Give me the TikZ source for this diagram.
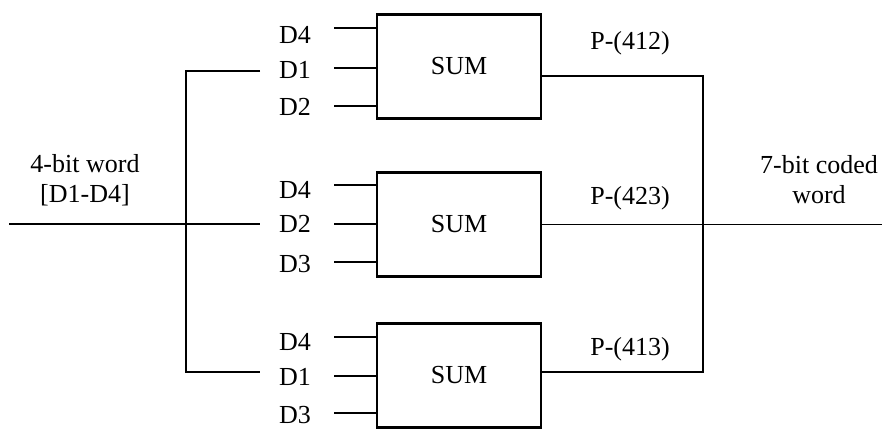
\documentclass[tikz,border=0pt]{standalone}
\usepackage{fontspec}
\setmainfont{Liberation Serif}
\usetikzlibrary{positioning, calc}

\begin{document}
\begin{tikzpicture}[
    x=0.5pt, y=-0.5pt,
    every node/.style={font=\fontsize{13}{15}\selectfont},
    sumbox/.style={draw, line width=1.4pt, minimum width=82pt, minimum height=52pt, inner sep=0pt},
    lbl/.style={inner sep=0pt},
    bus/.style={line width=1.4pt},
    wire/.style={line width=0.6pt}
]
    \useasboundingbox (0,0) rectangle (882,428);

    % Parity blocks
    \node[sumbox] (sum1) at (459,66.5) {SUM};
    \node[sumbox] (sum2) at (459,224.5) {SUM};
    \node[sumbox] (sum3) at (459,375.5) {SUM};

    % Data bit labels
    \node[lbl] (l14) at (295,35) {D4};
    \node[lbl] (l11) at (295,70) {D1};
    \node[lbl] (l12) at (295,107) {D2};
    \node[lbl] (l24) at (295,190) {D4};
    \node[lbl] (l22) at (295,224) {D2};
    \node[lbl] (l23) at (295,264) {D3};
    \node[lbl] (l34) at (295,342) {D4};
    \node[lbl] (l31) at (295,377) {D1};
    \node[lbl] (l33) at (295,415) {D3};

    % Input stubs
    \coordinate (s14) at (334,28);
    \coordinate (s11) at (334,68);
    \coordinate (s12) at (334,106);
    \coordinate (s24) at (334,185);
    \coordinate (s22) at (334,224);
    \coordinate (s23) at (334,262);
    \coordinate (s34) at (334,337);
    \coordinate (s31) at (334,376);
    \coordinate (s33) at (334,413);
    \draw[bus] (s14) -- (s14 -| sum1.west);
    \draw[bus] (s11) -- (s11 -| sum1.west);
    \draw[bus] (s12) -- (s12 -| sum1.west);
    \draw[bus] (s24) -- (s24 -| sum2.west);
    \draw[wire] (s22) -- (s22 -| sum2.west);
    \draw[wire] (s23) -- (s23 -| sum2.west);
    \draw[wire] (s34) -- (s34 -| sum3.west);
    \draw[bus] (s31) -- (s31 -| sum3.west);
    \draw[bus] (s33) -- (s33 -| sum3.west);

    % Input word
    \node[lbl, align=center] (inword) at (85,180) {4-bit word\\{[D1-D4]}};
    \coordinate (win) at (9,224);
    \coordinate (wend) at (260,224);
    \draw[wire] (win) -- (wend);

    % D1 bus
    \coordinate (inT) at (260,71);
    \coordinate (busT) at (186,71);
    \coordinate (busB) at (186,372);
    \coordinate (inB) at (260,372);
    \draw[bus] (inT) -- (busT) -- (busB) -- (inB);

    % Parity outputs
    \node[lbl] (p1) at (630,43) {P-(412)};
    \node[lbl] (p2) at (630,198) {P-(423)};
    \node[lbl] (p3) at (630,349) {P-(413)};
    \coordinate (o1) at (703,76);
    \coordinate (o3) at (703,372);
    \draw[bus] (sum1.east |- o1) -- (o1) -- (o3) -- (sum3.east |- o3);
    \coordinate (wout) at (882,224);
    \draw[wire] (sum2.east) -- (sum2.east -| wout);

    % Output word
    \node[lbl, align=center] (outword) at (819,180) {7-bit coded\\word};
\end{tikzpicture}
\end{document}
